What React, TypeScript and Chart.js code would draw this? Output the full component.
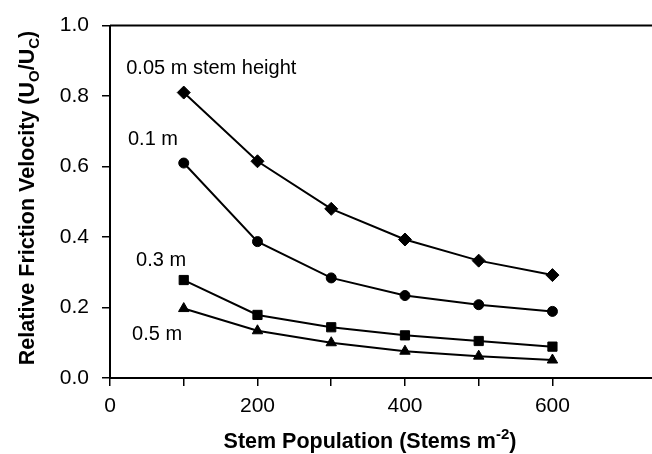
import React, { useEffect, useRef } from "react";
import { Chart, registerables } from "chart.js";
Chart.register(...registerables);

const stemPopulation = [100, 200, 300, 400, 500, 600];
const height005 = [0.81, 0.615, 0.48, 0.393, 0.333, 0.292];
const height01 = [0.61, 0.387, 0.284, 0.234, 0.208, 0.189];
const height03 = [0.278, 0.179, 0.144, 0.121, 0.105, 0.089];
const height05 = [0.197, 0.134, 0.1, 0.076, 0.062, 0.051];

const seriesLabels = ["0.05 m stem height", "0.1 m", "0.3 m", "0.5 m"];
const seriesMarkers = ["rectRot", "circle", "rect", "triangle"];
const markerSizes = [6.5, 5, 6.5, 6];
const annotationX = [22, 24.4, 35.3, 29.9];
const annotationY = [0.862, 0.661, 0.318, 0.108];

const xTickValues = [0, 100, 200, 300, 400, 500, 600];
const xLabelValues = [0, 200, 400, 600];
const yTickValues = [0, 0.2, 0.4, 0.6, 0.8, 1.0];

const FONT = '"Liberation Sans", Arial, Helvetica, sans-serif';

const overlayPlugin = {
  id: "overlay",
  afterDraw(chart: any) {
    const { ctx, chartArea, scales } = chart;
    ctx.save();
    // top frame line
    ctx.strokeStyle = "#000";
    ctx.lineWidth = 2;
    ctx.beginPath();
    ctx.moveTo(chartArea.left, chartArea.top);
    ctx.lineTo(chartArea.right, chartArea.top);
    ctx.stroke();

    // annotations
    ctx.fillStyle = "#000";
    ctx.textAlign = "left";
    ctx.textBaseline = "alphabetic";
    ctx.font = `20px ${FONT}`;
    seriesLabels.forEach((t, i) => {
      ctx.fillText(
        t,
        scales.x.getPixelForValue(annotationX[i]),
        scales.y.getPixelForValue(annotationY[i])
      );
    });

    // x title with superscript
    const mainFont = `bold 21.5px ${FONT}`;
    const smallFont = `bold 15px ${FONT}`;
    const xParts = [
      { t: "Stem Population (Stems m", f: mainFont, dy: 0 },
      { t: "-2", f: smallFont, dy: -9 },
      { t: ")", f: mainFont, dy: 0 },
    ];
    let total = 0;
    xParts.forEach((p) => {
      ctx.font = p.f;
      total += ctx.measureText(p.t).width;
    });
    let x = 370 - total / 2;
    const xb = 448;
    xParts.forEach((p) => {
      ctx.font = p.f;
      ctx.fillText(p.t, x, xb + p.dy);
      x += ctx.measureText(p.t).width;
    });

    // y title with subscripts (rotated)
    const yParts = [
      { t: "Relative Friction Velocity (U", f: mainFont, dy: 0 },
      { t: "O", f: smallFont, dy: 5 },
      { t: "/U", f: mainFont, dy: 0 },
      { t: "C", f: smallFont, dy: 5 },
      { t: ")", f: mainFont, dy: 0 },
    ];
    total = 0;
    yParts.forEach((p) => {
      ctx.font = p.f;
      total += ctx.measureText(p.t).width;
    });
    ctx.translate(34, 198);
    ctx.rotate(-Math.PI / 2);
    x = -total / 2;
    yParts.forEach((p) => {
      ctx.font = p.f;
      ctx.fillText(p.t, x, p.dy);
      x += ctx.measureText(p.t).width;
    });
    ctx.restore();
  },
};

export default function App() {
  const canvasRef = useRef<HTMLCanvasElement | null>(null);

  useEffect(() => {
    document.body.style.margin = "0";
    const canvas = canvasRef.current;
    if (!canvas) return;
    const seriesData = [height005, height01, height03, height05];
    const chart = new Chart(canvas, {
      type: "line",
      data: {
        datasets: seriesData.map((vals, i) => ({
          label: seriesLabels[i],
          data: stemPopulation.map((xv, j) => ({ x: xv, y: vals[j] })),
          borderColor: "#000",
          backgroundColor: "#000",
          borderWidth: 2,
          pointStyle: seriesMarkers[i] as any,
          pointRadius: markerSizes[i],
          pointBorderWidth: 1,
          pointBorderColor: "#000",
          pointBackgroundColor: "#000",
          tension: 0,
          fill: false,
        })),
      },
      options: {
        responsive: false,
        animation: false,
        devicePixelRatio: 1,
        layout: {
          autoPadding: false,
          padding: { top: 19, right: 0, left: 0, bottom: 0 },
        },
        plugins: {
          legend: { display: false },
          tooltip: { enabled: false },
          title: { display: false },
        },
        scales: {
          x: {
            type: "linear",
            min: 0,
            max: 735,
            afterBuildTicks: (scale: any) => {
              scale.ticks = xTickValues.map((v) => ({ value: v }));
            },
            afterFit: (scale: any) => {
              scale.height = 76;
            },
            ticks: {
              autoSkip: false,
              maxRotation: 0,
              padding: 8,
              color: "#000",
              font: { family: FONT, size: 21 },
              callback: (v: any) =>
                xLabelValues.includes(Number(v)) ? String(v) : "",
            },
            grid: {
              drawOnChartArea: false,
              drawTicks: true,
              tickLength: 8,
              color: "#000",
              lineWidth: 1.5,
            },
            border: { display: true, color: "#000", width: 2 },
          },
          y: {
            type: "linear",
            min: 0,
            max: 1,
            afterBuildTicks: (scale: any) => {
              scale.ticks = yTickValues.map((v) => ({ value: v }));
            },
            afterFit: (scale: any) => {
              scale.width = 110;
            },
            ticks: {
              autoSkip: false,
              padding: 13,
              color: "#000",
              font: { family: FONT, size: 21 },
              callback: (v: any) => Number(v).toFixed(1),
            },
            grid: {
              drawOnChartArea: false,
              drawTicks: true,
              tickLength: 8,
              color: "#000",
              lineWidth: 1.5,
            },
            border: { display: true, color: "#000", width: 2 },
          },
        },
      },
      plugins: [overlayPlugin],
    });
    return () => chart.destroy();
  }, []);

  return (
    <div style={{ width: 652, height: 454, background: "#fff" }}>
      <canvas
        ref={canvasRef}
        width={652}
        height={454}
        style={{ display: "block", width: 652, height: 454 }}
      />
    </div>
  );
}
